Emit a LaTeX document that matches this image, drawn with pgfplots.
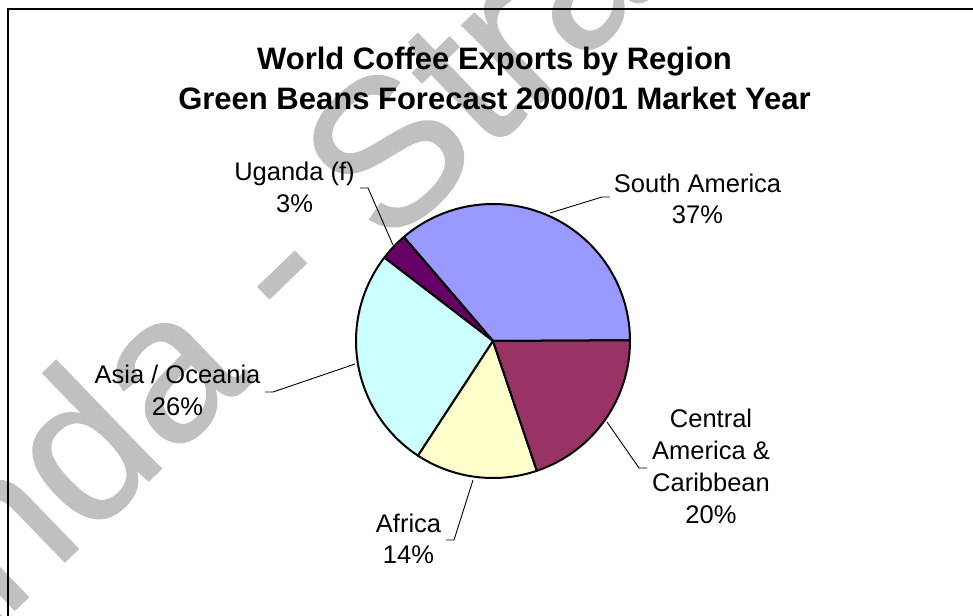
\documentclass[border=0pt]{standalone}
\usepackage{pgfplots}
\usepackage{pgfplotstable}
\usepackage{fontspec}
\setmainfont{Liberation Sans}
\newfontfamily\wmfont[FakeBold=0.8]{Liberation Sans}
\pgfplotsset{compat=1.18}
\definecolor{sa}{RGB}{153,153,255}
\definecolor{ug}{RGB}{102,0,102}
\definecolor{as}{RGB}{204,255,255}
\definecolor{af}{RGB}{255,255,204}
\definecolor{ca}{RGB}{153,51,102}
\definecolor{wm}{RGB}{192,192,192}
% share of world green-bean coffee exports (%), pie order counter-clockwise from east
\pgfplotstableread{
share col
36.2 sa
3.3 ug
26.2 as
14.4 af
19.9 ca
}\piedata
\begin{document}
\begin{tikzpicture}
\begin{axis}[
  width=973pt, height=615pt, scale only axis,
  xmin=0, xmax=973, ymin=0, ymax=615, y dir=reverse,
  hide axis, clip=true,
]
% watermark
\node[rotate=44, anchor=base west, text=wm, inner sep=0pt,
      font=\wmfont\fontsize{208}{208}\selectfont] at (axis cs:-270,885) {Uganda - Strategy};
% frame
\draw[line width=2pt] (axis cs:7.5,700) -- (axis cs:7.5,9) -- (axis cs:1000,9);
% pie
\def\cum{0.3}
\pgfplotstablegetrowsof{\piedata}
\pgfmathtruncatemacro{\nrows}{\pgfplotsretval-1}
\pgfplotsforeachungrouped \i in {0,...,\nrows}{%
  \pgfplotstablegetelem{\i}{share}\of\piedata
  \pgfmathsetmacro{\sa}{\cum}%
  \pgfmathsetmacro{\sb}{\cum+3.6*\pgfplotsretval}%
  \pgfplotstablegetelem{\i}{col}\of\piedata
  \let\col\pgfplotsretval
  \pgfmathsetmacro{\xs}{493+137*cos(\sa)}%
  \pgfmathsetmacro{\ys}{341-137*sin(\sa)}%
  \edef\tmp{\noexpand\filldraw[fill=\col, draw=black, line width=2pt, line join=round]
    (axis cs:493,341) -- (axis cs:\xs,\ys) arc[start angle=\sa, end angle=\sb, radius=137pt] -- cycle;}%
  \tmp
  \let\cum\sb
}
% leader lines
\draw[line width=0.9pt] (axis cs:360,188) -- (axis cs:368,188) -- (axis cs:393,245);
\draw[line width=0.9pt] (axis cs:610,197) -- (axis cs:602,197) -- (axis cs:550,213);
\draw[line width=0.9pt] (axis cs:265,392) -- (axis cs:273,392) -- (axis cs:355,364);
\draw[line width=0.9pt] (axis cs:607,422) -- (axis cs:639,468) -- (axis cs:647,468);
\draw[line width=0.9pt] (axis cs:473,480) -- (axis cs:454,540) -- (axis cs:446,540);
% title
\tikzset{tt/.style={anchor=base, inner sep=0pt, font=\fontsize{31}{36}\selectfont\bfseries},
         lb/.style={anchor=base, inner sep=0pt, font=\fontsize{25.5}{30}\selectfont}}
\node[tt] at (axis cs:494.5,70) {World Coffee Exports by Region};
\node[tt] at (axis cs:494.5,110) {Green Beans Forecast 2000/01 Market Year};
% labels
\node[lb] at (axis cs:294.5,180) {Uganda (f)};
\node[lb] at (axis cs:294.5,212) {3\%};
\node[lb] at (axis cs:697.5,192) {South America};
\node[lb] at (axis cs:697.5,223) {37\%};
\node[lb] at (axis cs:177.5,383) {Asia / Oceania};
\node[lb] at (axis cs:177.5,415) {26\%};
\node[lb] at (axis cs:711,427) {Central};
\node[lb] at (axis cs:711,459) {America \&};
\node[lb] at (axis cs:711,491) {Caribbean};
\node[lb] at (axis cs:711,523) {20\%};
\node[lb] at (axis cs:408.5,532) {Africa};
\node[lb] at (axis cs:408.5,563) {14\%};
\end{axis}
\pgfresetboundingbox
\useasboundingbox (current axis.south west) rectangle (current axis.north east);
\end{tikzpicture}
\end{document}
